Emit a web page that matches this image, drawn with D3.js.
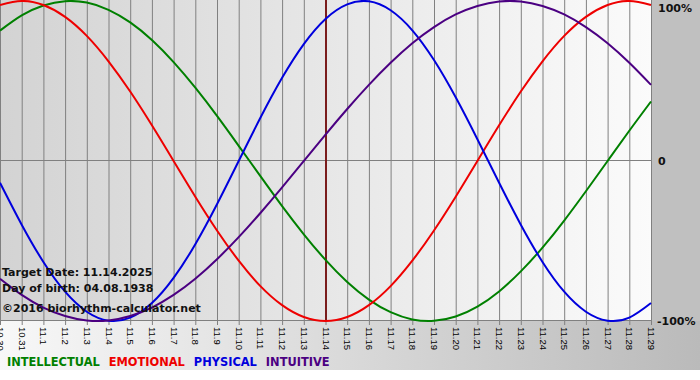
<!DOCTYPE html>
<html>
<head>
<meta charset="utf-8">
<script src="https://d3js.org/d3.v7.min.js"></script>
<style>
  body { margin: 0; background: #fff; }
  text { font-family: "DejaVu Sans", Verdana, sans-serif; }
</style>
</head>
<body>
<script>
// dates along the bottom
const days = ["10.30","10.31","11.1","11.2","11.3","11.4","11.5","11.6","11.7","11.8","11.9",
  "11.10","11.11","11.12","11.13","11.14","11.15","11.16","11.17","11.18","11.19","11.20",
  "11.21","11.22","11.23","11.24","11.25","11.26","11.27","11.28","11.29"];

// cycle values per day, -1 .. 1
const intellectual = [0.815,0.910,0.972,0.999,0.990,0.945,0.866,0.756,0.618,0.458,0.282,0.095,-0.095,
  -0.282,-0.458,-0.618,-0.756,-0.866,-0.945,-0.990,-0.999,-0.972,-0.910,-0.815,-0.690,-0.541,-0.372,
  -0.189,0.000,0.189,0.372];
const emotional = [0.975,1.000,0.975,0.901,0.782,0.623,0.434,0.223,0.000,-0.223,-0.434,-0.623,-0.782,
  -0.901,-0.975,-1.000,-0.975,-0.901,-0.782,-0.623,-0.434,-0.223,0.000,0.223,0.434,0.623,0.782,0.901,
  0.975,1.000,0.975];
const physical = [-0.136,-0.398,-0.631,-0.817,-0.942,-0.998,-0.979,-0.888,-0.731,-0.520,-0.270,0.000,
  0.270,0.520,0.731,0.888,0.979,0.998,0.942,0.817,0.631,0.398,0.136,-0.136,-0.398,-0.631,-0.817,
  -0.942,-0.998,-0.979,-0.888];
const intuitive = [-0.736,-0.837,-0.916,-0.969,-0.997,-0.997,-0.969,-0.916,-0.837,-0.736,-0.614,-0.476,
  -0.325,-0.165,0.000,0.165,0.325,0.476,0.614,0.736,0.837,0.916,0.969,0.997,0.997,0.969,0.916,0.837,
  0.736,0.614,0.476];

const seriesNames = ["INTELLECTUAL", "EMOTIONAL", "PHYSICAL", "INTUITIVE"];
const seriesValues = [intellectual, emotional, physical, intuitive];
const seriesColors = ["#008000", "#ee0000", "#0000dd", "#4b0082"];

const yTicks = [1, 0, -1];
const yTickLabels = ["100%", "0", "-100%"];
const targetDay = "11.14";
const infoLines = ["Target Date: 11.14.2025", "Day of birth: 04.08.1938", "\u00a92016 biorhythm-calculator.net"];

const W = 700, H = 380;
const plotR = 651, plotT = 1, plotB = 321;

const svg = d3.select("body").append("svg")
  .attr("width", W).attr("height", H);

const defs = svg.append("defs");
const g1 = defs.append("linearGradient").attr("id", "plotbg");
g1.append("stop").attr("offset", "0%").attr("stop-color", "#d3d3d3");
g1.append("stop").attr("offset", "100%").attr("stop-color", "#fbfbfb");
const g2 = defs.append("linearGradient").attr("id", "axisbg");
g2.append("stop").attr("offset", "0%").attr("stop-color", "#f8f8f8");
g2.append("stop").attr("offset", "100%").attr("stop-color", "#bababa");

let x = d3.scalePoint().domain(days).range([0, plotR]);
let y = d3.scaleLinear().domain([-1, 1]).range([plotB, plotT]);

// backgrounds
svg.append("rect").attr("x", 0).attr("y", plotB).attr("width", W).attr("height", 49)
  .attr("fill", "url(#axisbg)");
svg.append("rect").attr("x", plotR + 1).attr("y", 0).attr("width", W - plotR - 1).attr("height", plotB)
  .attr("fill", "#c0c0c0");
svg.append("rect").attr("x", 0).attr("y", 0).attr("width", plotR + 1).attr("height", plotB)
  .attr("fill", "url(#plotbg)");

// day grid lines with ticks below
svg.selectAll("line.grid")
  .data(days)
  .join("line")
    .attr("class", "grid")
    .attr("x1", d => x(d) + 0.5).attr("x2", d => x(d) + 0.5)
    .attr("y1", 0).attr("y2", plotB + 4)
    .attr("stroke", "#808080").attr("stroke-width", 1);

// horizontal lines
svg.selectAll("line.h")
  .data([0, -1])
  .join("line")
    .attr("class", "h")
    .attr("x1", 0).attr("x2", plotR + 1)
    .attr("y1", d => Math.round(y(d)) - 0.5).attr("y2", d => Math.round(y(d)) - 0.5)
    .attr("stroke", "#808080");

// target date line
svg.append("line")
  .attr("x1", x(targetDay) + 0.5).attr("x2", x(targetDay) + 0.5)
  .attr("y1", 0).attr("y2", plotB)
  .attr("stroke", "#7a1c1c").attr("stroke-width", 2);

// curves
let line = d3.line()
  .x((d, i) => x(days[i]))
  .y(d => y(d))
  .curve(d3.curveNatural);

svg.append("g")
  .selectAll("path")
  .data(seriesValues)
  .join("path")
    .attr("d", d => line(d))
    .attr("fill", "none")
    .attr("stroke", (d, i) => seriesColors[i])
    .attr("stroke-width", 2);

// x labels, rotated (first one runs off the left edge, as in the original)
svg.selectAll("text.day")
  .data(days)
  .join("text")
    .attr("class", "day")
    .attr("transform", d => `translate(${x(d) + 0.5},327) rotate(90)`)
    .attr("dy", "0.36em")
    .style("font-family", "'Liberation Sans', Arial, sans-serif")
    .style("font-size", "9.5px")
    .attr("fill", "#000")
    .text(d => d);

// right labels
svg.selectAll("text.pct")
  .data(yTicks)
  .join("text")
    .attr("class", "pct")
    .attr("x", d => d < 0 ? 657 : 658)
    .attr("y", d => Math.max(y(d), 8))
    .attr("dy", "0.36em")
    .style("font-size", "11px").style("font-weight", "bold")
    .attr("fill", "#111")
    .text((d, i) => yTickLabels[i]);

// info text
svg.selectAll("text.info")
  .data(infoLines)
  .join("text")
    .attr("class", "info")
    .attr("x", 2)
    .attr("y", (d, i) => [276, 292, 312][i])
    .style("font-size", "11px").style("font-weight", "bold")
    .attr("fill", "#111")
    .text(d => d);

// legend
let lx = 7;
seriesNames.forEach((name, i) => {
  let t = svg.append("text")
    .attr("x", lx).attr("y", 366)
    .style("font-size", "11.4px").style("font-weight", "bold")
    .attr("fill", seriesColors[i])
    .text(name);
  lx += t.node().getComputedTextLength() + 9;
});
</script>
</body>
</html>
